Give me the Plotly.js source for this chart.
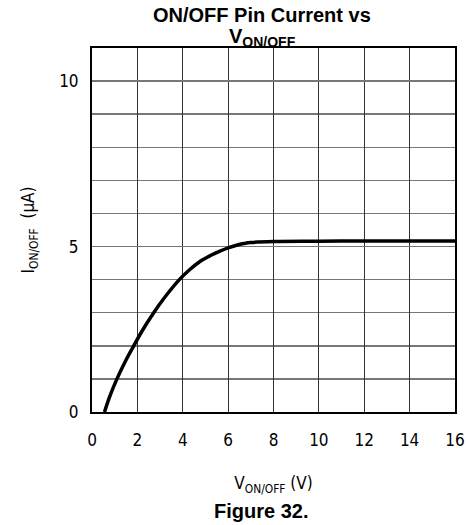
<!DOCTYPE html>
<html>
<head>
<meta charset="utf-8">
<script src="https://cdn.plot.ly/plotly-3.0.1.min.js"></script>
<style>html,body{margin:0;padding:0;background:#fff;}#chart{width:466px;height:525px;}</style>
</head>
<body>
<div id="chart"></div>
<script>
const vOnOff = [0.55, 0.8, 1.1, 1.5, 1.84, 2.2, 2.72, 3.2, 3.85, 4.3, 4.76, 5.2, 5.64, 6.0, 6.37, 6.7, 7.0, 8.0, 10.0, 12.0, 14.0, 16.0];
const iOnOff = [0, 0.5, 1.0, 1.57, 2.0, 2.44, 3.0, 3.46, 4.0, 4.3, 4.55, 4.72, 4.86, 4.96, 5.04, 5.09, 5.12, 5.15, 5.16, 5.17, 5.17, 5.17];
const xTicks = [0, 2, 4, 6, 8, 10, 12, 14, 16];
const yTicks = [0, 5, 10];

const tickFont = {family: "DejaVu Sans Condensed, DejaVu Sans, Liberation Sans, sans-serif", size: 17, color: "#000"};
const boldFont = {family: "Liberation Sans, Arial, sans-serif", size: 20, color: "#000"};

Plotly.newPlot("chart", [{
  x: vOnOff, y: iOnOff, type: "scatter", mode: "lines",
  line: {color: "#000", width: 3.5, shape: "spline", smoothing: 1.0},
  hoverinfo: "skip"
}], {
  width: 466, height: 525,
  margin: {l: 92, r: 11, t: 48, b: 113},
  paper_bgcolor: "#fff", plot_bgcolor: "#fff",
  showlegend: false,
  xaxis: {
    range: [0, 16], tickvals: xTicks, ticktext: xTicks.map(String),
    showgrid: true, gridcolor: "#333", gridwidth: 1,
    zeroline: false, showline: true, linecolor: "#000", linewidth: 2, mirror: true,
    ticks: "", ticklabelstandoff: 12, tickfont: tickFont,
    title: {text: "V<sub>ON/OFF</sub> (V)", font: tickFont, standoff: 28}
  },
  yaxis: {
    range: [0, 11], tickvals: yTicks, ticktext: yTicks.map(String),
    showgrid: true, gridcolor: "#777", gridwidth: 1.5,
    minor: {dtick: 1, showgrid: true, gridcolor: "#777", gridwidth: 1.5, ticks: ""},
    zeroline: false, showline: true, linecolor: "#000", linewidth: 2, mirror: true,
    ticks: "", ticklabelstandoff: 8, tickfont: tickFont,
    title: {text: "I<sub>ON/OFF</sub>  (μA)", font: tickFont, standoff: 20}
  },
  annotations: [
    {text: "<b>ON/OFF Pin Current vs</b>", xref: "paper", yref: "paper",
     x: 0.469, y: 1.09, xanchor: "center", yanchor: "middle", showarrow: false, font: boldFont},
    {text: "<b>V<sub>ON/OFF</sub></b>", xref: "paper", yref: "paper",
     x: 0.469, y: 1.03, xanchor: "center", yanchor: "middle", showarrow: false, font: boldFont},
    {text: "<b>Figure 32.</b>", xref: "paper", yref: "paper",
     x: 0.465, y: -0.273, xanchor: "center", yanchor: "middle", showarrow: false, font: boldFont}
  ]
}, {displayModeBar: false, staticPlot: true});
</script>
</body>
</html>
